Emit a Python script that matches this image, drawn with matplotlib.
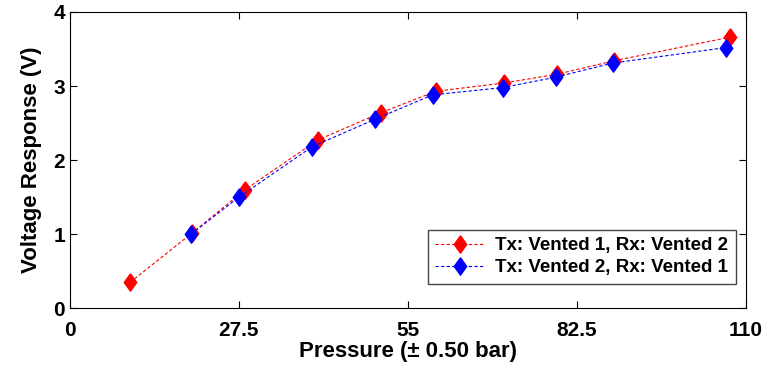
import matplotlib
matplotlib.use('Agg')
import matplotlib.pyplot as plt

# Tx: Vented 1, Rx: Vented 2
p_red = [9.8, 19.8, 28.5, 40.3, 50.6, 59.6, 70.6, 79.3, 88.5, 107.4]
v_red = [0.35, 1.01, 1.60, 2.27, 2.64, 2.93, 3.04, 3.16, 3.34, 3.66]
# Tx: Vented 2, Rx: Vented 1
p_blue = [19.7, 27.5, 39.4, 49.6, 59.0, 70.5, 79.1, 88.3, 106.8]
v_blue = [1.00, 1.50, 2.18, 2.55, 2.88, 2.98, 3.12, 3.31, 3.52]

xticks = [0, 27.5, 55, 82.5, 110]
xticklabels = ['0', '27.5', '55', '82.5', '110']
yticks = [0, 1, 2, 3, 4]

plt.rcParams['font.family'] = ['Liberation Sans', 'DejaVu Sans']
plt.rcParams['font.weight'] = 'bold'

# MATLAB-style diamond, a bit taller than wide
diamond = [(0, 1), (0.72, 0), (0, -1), (-0.72, 0), (0, 1)]

fig = plt.figure(figsize=(7.69, 3.74), dpi=100)
ax = fig.add_axes([0.091, 0.176, 0.879, 0.792])

ax.plot(p_red, v_red, linestyle='--', color='red', linewidth=0.8, marker=diamond,
        markersize=12.5, markerfacecolor='red', markeredgecolor='red',
        label='Tx: Vented 1, Rx: Vented 2', dashes=(3, 2))
ax.plot(p_blue, v_blue, linestyle='--', color='blue', linewidth=0.8, marker=diamond,
        markersize=12.5, markerfacecolor='blue', markeredgecolor='blue',
        label='Tx: Vented 2, Rx: Vented 1', dashes=(3, 2))

ax.set_xlim(0, 110)
ax.set_ylim(0, 4)
ax.set_xticks(xticks)
ax.set_xticklabels(xticklabels)
ax.set_yticks(yticks)
ax.tick_params(direction='in', top=True, right=True, labelsize=15, length=5)
ax.tick_params(axis='x', pad=9)
for lab in ax.get_xticklabels() + ax.get_yticklabels():
    lab.set_fontweight('bold')
ax.set_xlabel('Pressure (± 0.50 bar)', fontsize=16, fontweight='bold', labelpad=1)
ax.set_ylabel('Voltage Response (V)', fontsize=16, fontweight='bold', labelpad=8)

leg = ax.legend(loc='lower right', fontsize=13.5, fancybox=False, framealpha=1,
                edgecolor='#444444', handlelength=2.6, borderpad=0.4,
                labelspacing=0.25, borderaxespad=0, handletextpad=0.6,
                bbox_to_anchor=(0.985, 0.083))
for t in leg.get_texts():
    t.set_fontweight('bold')

fig.savefig('out.png', dpi=100)
